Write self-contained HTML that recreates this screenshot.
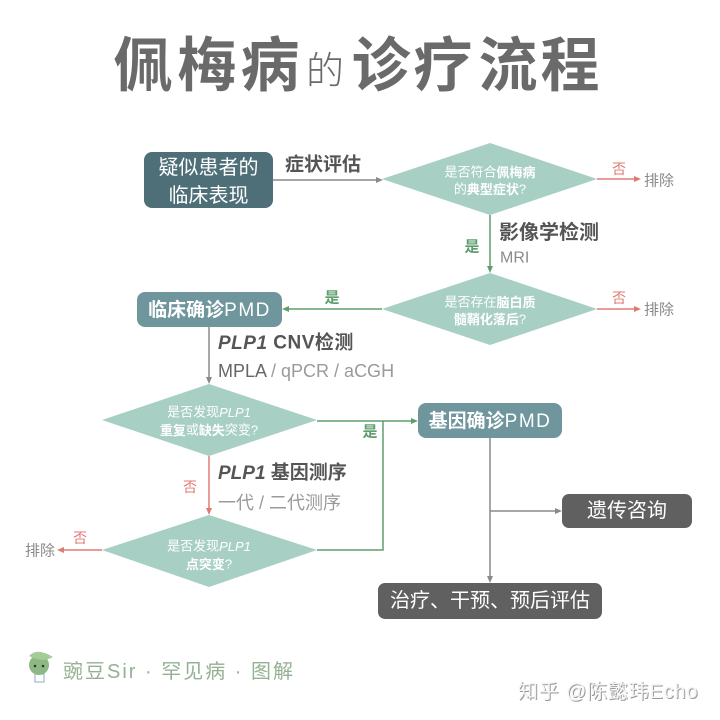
<!DOCTYPE html>
<html><head><meta charset="utf-8"><style>
html,body{margin:0;padding:0;background:#fff;}
svg{display:block;}
text{font-family:"Liberation Sans","Noto Sans CJK SC",sans-serif;}
.w{fill:#fff;}
.b{font-weight:700;}
</style></head><body>
<svg width="720" height="720" viewBox="0 0 720 720" xmlns="http://www.w3.org/2000/svg">
<rect width="720" height="720" fill="#fff"/>
<!-- Title -->
<g fill="#6a6a6a" font-size="59" font-weight="700" text-anchor="middle" dominant-baseline="central">
<text x="143" y="66">佩</text>
<text x="207" y="66">梅</text>
<text x="270" y="66">病</text>
<text x="381" y="66">诊</text>
<text x="443" y="66">疗</text>
<text x="508" y="66">流</text>
<text x="570" y="66">程</text>
</g>
<text x="325" y="72" fill="#6a6a6a" font-size="38" font-weight="300" text-anchor="middle" dominant-baseline="central">的</text>

<!-- Box 1 -->
<rect x="144" y="152" width="129" height="56" rx="8" fill="#4e6f78"/>
<g class="w" font-size="20" text-anchor="middle" dominant-baseline="central" fill="#eef2f3">
<text x="208.5" y="168">疑似患者的</text>
<text x="208.5" y="196">临床表现</text>
</g>
<text x="285" y="165" font-size="19" class="b" fill="#555" dominant-baseline="central">症状评估</text>
<line x1="273" y1="180" x2="378" y2="180" stroke="#8a8a8a" stroke-width="1.5"/>
<polygon points="383,180 376,177 376,183" fill="#8a8a8a"/>

<!-- Diamond 1 -->
<polygon points="382,179 490,143 597,179 490,215" fill="#a8cfc4"/>
<g font-size="13" text-anchor="middle" dominant-baseline="central" fill="#fff">
<text x="490" y="172">是否符合<tspan class="b">佩梅病</tspan></text>
<text x="490" y="189">的<tspan class="b">典型症状</tspan>?</text>
</g>
<line x1="597" y1="179" x2="636" y2="179" stroke="#e07b72" stroke-width="1.5"/>
<polygon points="641,179 634,176 634,182" fill="#e07b72"/>
<text x="619" y="169" font-size="14" fill="#e07b72" text-anchor="middle" dominant-baseline="central">否</text>
<text x="644" y="181" font-size="15" fill="#888" dominant-baseline="central">排除</text>

<!-- green down -->
<line x1="490" y1="215" x2="490" y2="268" stroke="#5f9d6e" stroke-width="1.5"/>
<polygon points="490,273 487,266 493,266" fill="#5f9d6e"/>
<text x="472" y="247" font-size="15" class="b" fill="#5f9d6e" text-anchor="middle" dominant-baseline="central">是</text>
<text x="499" y="233" font-size="20" class="b" fill="#555" dominant-baseline="central">影像学检测</text>
<text x="500" y="258" font-size="16" fill="#8a8a8a" dominant-baseline="central">MRI</text>

<!-- Diamond 2 -->
<polygon points="382,309 490,273 597,309 490,345" fill="#a8cfc4"/>
<g font-size="13" text-anchor="middle" dominant-baseline="central" fill="#fff">
<text x="490" y="302">是否存在<tspan class="b">脑白质</tspan></text>
<text x="490" y="319"><tspan class="b">髓鞘化落后</tspan>?</text>
</g>
<line x1="597" y1="309" x2="636" y2="309" stroke="#e07b72" stroke-width="1.5"/>
<polygon points="641,309 634,306 634,312" fill="#e07b72"/>
<text x="619" y="298" font-size="14" fill="#e07b72" text-anchor="middle" dominant-baseline="central">否</text>
<text x="644" y="310" font-size="15" fill="#888" dominant-baseline="central">排除</text>

<!-- green left to box 临床确诊 -->
<line x1="382" y1="309" x2="287" y2="309" stroke="#5f9d6e" stroke-width="1.5"/>
<polygon points="282,309 289,306 289,312" fill="#5f9d6e"/>
<text x="332" y="298" font-size="15" class="b" fill="#5f9d6e" text-anchor="middle" dominant-baseline="central">是</text>

<!-- Box 临床确诊PMD -->
<rect x="137" y="292" width="145" height="35" rx="8" fill="#6f969c"/>
<text x="209.5" y="310" font-size="19" fill="#fff" text-anchor="middle" dominant-baseline="central"><tspan class="b">临床确诊</tspan><tspan letter-spacing="1.5">PMD</tspan></text>

<line x1="209" y1="327" x2="209" y2="378" stroke="#8a8a8a" stroke-width="1.5"/>
<polygon points="209,384 206,377 212,377" fill="#8a8a8a"/>
<text x="218" y="343" font-size="19" class="b" fill="#555" dominant-baseline="central" letter-spacing="0.5"><tspan font-style="italic">PLP1</tspan> CNV检测</text>
<text x="218" y="371" font-size="18" fill="#9a9a9a" dominant-baseline="central"><tspan fill="#666">MPLA</tspan> / qPCR / aCGH</text>

<!-- Diamond 3 -->
<polygon points="102,420 209,384 317,420 209,456" fill="#a8cfc4"/>
<g font-size="13" text-anchor="middle" dominant-baseline="central" fill="#fff">
<text x="209" y="412">是否发现<tspan font-style="italic">PLP1</tspan></text>
<text x="209" y="430"><tspan class="b">重复</tspan>或<tspan class="b">缺失</tspan>突变?</text>
</g>

<!-- green to 基因确诊 -->
<line x1="317" y1="421" x2="413" y2="421" stroke="#5f9d6e" stroke-width="1.5"/>
<polygon points="418,421 411,418 411,424" fill="#5f9d6e"/>
<text x="370" y="432" font-size="15" class="b" fill="#5f9d6e" text-anchor="middle" dominant-baseline="central">是</text>
<polyline points="317,550 383,550 383,421" fill="none" stroke="#5f9d6e" stroke-width="1.5"/>

<!-- red down -->
<line x1="209" y1="456" x2="209" y2="509" stroke="#e07b72" stroke-width="1.5"/>
<polygon points="209,515 206,508 212,508" fill="#e07b72"/>
<text x="190" y="487" font-size="14" fill="#e07b72" text-anchor="middle" dominant-baseline="central">否</text>
<text x="218" y="473" font-size="19" class="b" fill="#555" dominant-baseline="central"><tspan font-style="italic">PLP1</tspan> 基因测序</text>
<text x="218" y="503" font-size="18" fill="#9a9a9a" dominant-baseline="central">一代 / 二代测序</text>

<!-- Diamond 4 -->
<polygon points="102,550 209,515 317,550 209,587" fill="#a8cfc4"/>
<g font-size="13" text-anchor="middle" dominant-baseline="central" fill="#fff">
<text x="209" y="546">是否发现<tspan font-style="italic">PLP1</tspan></text>
<text x="209" y="564"><tspan class="b">点突变</tspan>?</text>
</g>
<line x1="102" y1="550" x2="62" y2="550" stroke="#e07b72" stroke-width="1.5"/>
<polygon points="57,550 64,547 64,553" fill="#e07b72"/>
<text x="80" y="538" font-size="14" fill="#e07b72" text-anchor="middle" dominant-baseline="central">否</text>
<text x="25" y="551" font-size="15" fill="#888" dominant-baseline="central">排除</text>

<!-- Box 基因确诊PMD -->
<rect x="418" y="403" width="144" height="35" rx="8" fill="#6f969c"/>
<text x="490" y="421" font-size="19" fill="#fff" text-anchor="middle" dominant-baseline="central"><tspan class="b">基因确诊</tspan><tspan letter-spacing="1.5">PMD</tspan></text>

<line x1="490" y1="438" x2="490" y2="577" stroke="#8a8a8a" stroke-width="1.5"/>
<polygon points="490,583 487,576 493,576" fill="#8a8a8a"/>
<line x1="490" y1="511" x2="557" y2="511" stroke="#8a8a8a" stroke-width="1.5"/>
<polygon points="562,511 555,508 555,514" fill="#8a8a8a"/>

<rect x="562" y="494" width="130" height="34" rx="7" fill="#606060"/>
<text x="627" y="511" font-size="20" fill="#fff" text-anchor="middle" dominant-baseline="central">遗传咨询</text>

<rect x="378" y="583" width="224" height="36" rx="7" fill="#606060"/>
<text x="490" y="601" font-size="20" fill="#fff" text-anchor="middle" dominant-baseline="central">治疗、干预、预后评估</text>

<!-- Footer icon -->
<g>
<rect x="35" y="674" width="9" height="8" fill="#fff" stroke="#8fa8c8" stroke-width="1"/>
<circle cx="39" cy="665" r="10" fill="#8db884"/>
<path d="M29,656 Q37,647 53,657 Q42,663 29,656 Z" fill="#a3cc98"/>
<circle cx="35" cy="666" r="1.3" fill="#333"/>
<circle cx="43" cy="666" r="1.3" fill="#333"/>
</g>
<text x="63" y="672" font-size="20" fill="#94b194" letter-spacing="2" dominant-baseline="central">豌豆Sir · 罕见病 · 图解</text>

<!-- Watermark -->
<text x="519" y="693" font-size="20" fill="#9a9a9a" letter-spacing="0.8" dominant-baseline="central">知乎 @陈懿玮Echo</text>
<text x="518" y="692" font-size="20" fill="#f4f4f4" letter-spacing="0.8" dominant-baseline="central">知乎 @陈懿玮Echo</text>
</svg>
</body></html>
